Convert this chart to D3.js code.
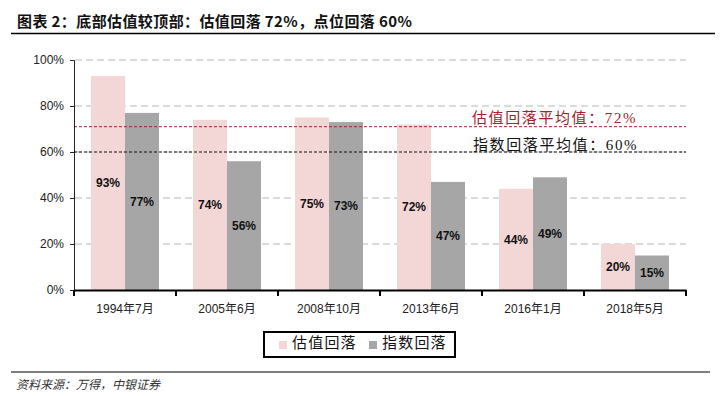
<!DOCTYPE html>
<html><head><meta charset="utf-8">
<script src="https://cdn.jsdelivr.net/npm/d3@7"></script>
<style>
html,body{margin:0;padding:0;background:#fff;}
svg{display:block;}
</style>
</head><body>
<svg id="c" width="725" height="396"></svg>
<script>
const categories = ["1994年7月","2005年6月","2008年10月","2013年6月","2016年1月","2018年5月"];
const seriesNames = ["估值回落","指数回落"];
const valuationDrop = [93,74,75,72,44,20];
const indexDrop = [77,56,73,47,49,15];
const yTicks = [0,20,40,60,80,100];
const avgLines = [
  {name:"估值回落平均值：72%", value:71, color:"#a3222c"},
  {name:"指数回落平均值：60%", value:60, color:"#111"}
];
const titleText = "图表 2：底部估值较顶部：估值回落 72%，点位回落 60%";
const sourceText = "资料来源：万得，中银证券";
const colors = ["#f3d6d6","#a6a6a6"];

const svg = d3.select("#c");
const sans = "'Liberation Sans', Arial, 'Noto Sans CJK SC', sans-serif";
const serif = "'Liberation Serif', 'Times New Roman', 'Noto Sans CJK SC', serif";

// title
svg.append("text").attr("x",17).attr("y",27).text(titleText)
  .attr("font-family","'Noto Sans CJK SC', sans-serif").attr("font-weight","bold")
  .attr("font-size",15).attr("fill","#111").attr("letter-spacing",0.4);
svg.append("line").attr("x1",11).attr("x2",715).attr("y1",33.5).attr("y2",33.5)
  .attr("stroke","#000").attr("stroke-width",1.5);

const x = d3.scaleBand().domain(categories).range([74,686]).padding(0);
const xs = d3.scaleBand().domain(seriesNames).range([0,x.bandwidth()]).paddingInner(0).paddingOuter(0.5);
const y = d3.scaleLinear().domain([0,100]).range([290,60]);

// gridlines
svg.append("g").selectAll("line").data(yTicks.filter(d=>d>0)).join("line")
  .attr("x1",75).attr("x2",686).attr("y1",d=>y(d)).attr("y2",d=>y(d))
  .attr("stroke","#cfcfcf").attr("stroke-width",1.5).attr("stroke-dasharray","7,4");

// bars
const data = categories.map((c,i)=>({c, vals:[valuationDrop[i], indexDrop[i]]}));
const g = svg.append("g");
data.forEach(d=>{
  d.vals.forEach((v,j)=>{
    const bx = x(d.c)+xs(seriesNames[j]);
    g.append("rect").attr("x",bx).attr("y",y(v)).attr("width",xs.bandwidth()).attr("height",y(0)-y(v))
      .attr("fill",colors[j]);
  });
});

// average lines
avgLines.forEach(a=>{
  svg.append("line").attr("x1",74).attr("x2",686).attr("y1",y(a.value)).attr("y2",y(a.value))
    .attr("stroke",a.color).attr("stroke-width",1).attr("stroke-dasharray","3,2");
});
svg.append("text").attr("x",472).attr("y",y(avgLines[0].value)-4).text(avgLines[0].name)
  .attr("font-family",serif).attr("font-size",15).attr("letter-spacing",1.6).attr("fill",avgLines[0].color);
svg.append("text").attr("x",473).attr("y",y(avgLines[1].value)-2).text(avgLines[1].name)
  .attr("font-family",serif).attr("font-size",15).attr("letter-spacing",1.6).attr("fill","#111");

// data labels
data.forEach(d=>{
  d.vals.forEach((v,j)=>{
    const cx = x(d.c)+xs(seriesNames[j])+xs.bandwidth()/2;
    g.append("text").attr("x",cx).attr("y",(y(v)+y(0))/2).attr("dy","0.35em")
      .attr("text-anchor","middle").attr("font-family",sans).attr("font-weight","bold")
      .attr("font-size",12).attr("fill","#111").text(v+"%");
  });
});

// y axis
const yAxis = d3.axisLeft(y).tickValues(yTicks).tickFormat(d=>d+"%").tickSize(4).tickPadding(6);
const ya = svg.append("g").attr("transform","translate(74,0)").call(yAxis);
ya.select(".domain").attr("stroke","#222").attr("stroke-width",1);
ya.selectAll(".tick line").attr("stroke","#222");
ya.selectAll("text").attr("font-family",sans).attr("font-size",12).attr("fill","#222");

// x axis
const xAxis = d3.axisBottom(x).tickSize(0).tickPadding(14);
const xa = svg.append("g").attr("transform","translate(0,290)").call(xAxis);
xa.select(".domain").attr("stroke","#000").attr("stroke-width",2);
xa.selectAll("text").attr("font-family",sans).attr("font-size",12).attr("fill","#222");
const bounds = categories.map(c=>x(c)).concat([x.range()[1]]);
svg.append("g").selectAll("line").data(bounds).join("line")
  .attr("x1",d=>d).attr("x2",d=>d).attr("y1",290).attr("y2",296)
  .attr("stroke","#000").attr("stroke-width",2);

// legend
svg.append("rect").attr("x",264).attr("y",332).attr("width",191).attr("height",25)
  .attr("fill","#fff").attr("stroke","#000").attr("stroke-width",2);
const legX = [279, 369];
seriesNames.forEach((n,j)=>{
  svg.append("rect").attr("x",legX[j]).attr("y",341).attr("width",8).attr("height",8).attr("fill",colors[j]);
  svg.append("text").attr("x",legX[j]+13).attr("y",348).text(n)
    .attr("font-family",serif).attr("font-size",15).attr("letter-spacing",1.2).attr("fill","#111");
});

// footer
svg.append("line").attr("x1",11).attr("x2",710).attr("y1",372).attr("y2",372)
  .attr("stroke","#000").attr("stroke-width",1.2);
svg.append("text").attr("x",16).attr("y",389).text(sourceText)
  .attr("font-family","'Noto Sans CJK SC', sans-serif").attr("font-style","italic")
  .attr("font-size",12).attr("fill","#333");
</script>
</body></html>
